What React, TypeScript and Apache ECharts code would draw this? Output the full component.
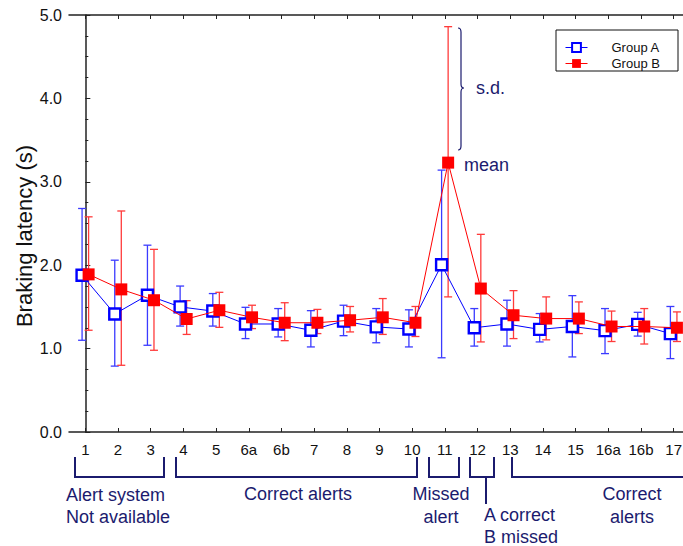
import React, { useEffect, useRef } from "react";
import * as echarts from "echarts";

const categories = ["1", "2", "3", "4", "5", "6a", "6b", "7", "8", "9", "10", "11", "12", "13", "14", "15", "16a", "16b", "17"];
const groupAMean = [1.88, 1.415, 1.64, 1.5, 1.45, 1.295, 1.295, 1.22, 1.33, 1.26, 1.235, 2.005, 1.25, 1.295, 1.23, 1.265, 1.215, 1.29, 1.18];
const groupALow = [1.1, 0.79, 1.04, 1.27, 1.27, 1.12, 1.14, 1.02, 1.155, 1.07, 1.02, 0.89, 1.03, 1.03, 1.08, 0.9, 0.94, 1.15, 0.88];
const groupAHigh = [2.68, 2.06, 2.24, 1.75, 1.66, 1.495, 1.48, 1.455, 1.52, 1.48, 1.465, 3.14, 1.48, 1.58, 1.42, 1.635, 1.48, 1.435, 1.505];
const groupBMean = [1.89, 1.71, 1.58, 1.355, 1.46, 1.375, 1.31, 1.31, 1.34, 1.375, 1.31, 3.23, 1.72, 1.4, 1.36, 1.36, 1.265, 1.265, 1.25];
const groupBLow = [1.22, 0.8, 0.98, 1.17, 1.255, 1.24, 1.095, 1.18, 1.2, 1.17, 1.145, 1.62, 1.08, 1.12, 1.105, 1.18, 1.085, 1.055, 1.085];
const groupBHigh = [2.58, 2.65, 2.19, 1.575, 1.675, 1.52, 1.55, 1.47, 1.505, 1.6, 1.505, 4.86, 2.37, 1.695, 1.62, 1.56, 1.45, 1.48, 1.44];
const seriesNames = ["Group A", "Group B"];
const yMin = 0;
const yMax = 5;
const yInterval = 1;

const NAVY = "#1b1b6e";
const FONT = '"Liberation Sans", Arial, sans-serif';
const OFFSET = 0.1;

echarts.graphic.registerShape(
  "brace",
  echarts.graphic.extendPath("M0,0 Q3,0 3,4 L3,56 Q3,60 6,60 Q3,60 3,64 L3,118 Q3,122 0,122", {})
);

function errorRender(color: string) {
  return (params: any, api: any) => {
    const x = api.value(0);
    const lo = api.coord([x, api.value(1)]);
    const hi = api.coord([x, api.value(2)]);
    const w = 4;
    const style = { stroke: color, lineWidth: 1.3 };
    return {
      type: "group",
      children: [
        { type: "line", shape: { x1: lo[0], y1: lo[1], x2: hi[0], y2: hi[1] }, style },
        { type: "line", shape: { x1: hi[0] - w, y1: hi[1], x2: hi[0] + w, y2: hi[1] }, style },
        { type: "line", shape: { x1: lo[0] - w, y1: lo[1], x2: lo[0] + w, y2: lo[1] }, style },
      ],
    };
  };
}

function bracket(x1: number, x2: number | null, yTop: number, yBot: number) {
  const pts: number[][] = [[x1, yTop], [x1, yBot]];
  if (x2 === null) {
    pts.push([710, yBot]);
  } else {
    pts.push([x2, yBot], [x2, yTop]);
  }
  return { type: "polyline", shape: { points: pts }, style: { stroke: NAVY, lineWidth: 2, fill: "none" }, silent: true };
}

function label(text: string, x: number, y: number, align: string) {
  return {
    type: "text",
    x,
    y,
    style: {
      text,
      fill: NAVY,
      font: `18px ${FONT}`,
      fontSize: 18,
      fontFamily: FONT,
      textAlign: align,
      align,
      textVerticalAlign: "middle",
      verticalAlign: "middle",
    },
    silent: true,
  };
}

export default function App() {
  const ref = useRef<HTMLDivElement>(null);
  useEffect(() => {
    if (!ref.current) return;
    const chart = echarts.init(ref.current, null, { renderer: "svg" });
    const aLine = groupAMean.map((v, i) => [i - OFFSET, v]);
    const bLine = groupBMean.map((v, i) => [i + OFFSET, v]);
    const aErr = groupAMean.map((_, i) => [i - OFFSET, groupALow[i], groupAHigh[i]]);
    const bErr = groupBMean.map((_, i) => [i + OFFSET, groupBLow[i], groupBHigh[i]]);

    const yTop = 457;
    const yBot = 477;

    chart.setOption({
      animation: false,
      backgroundColor: "#fff",
      grid: { left: 69, top: 15, width: 621, height: 417, containLabel: false },
      legend: {
        orient: "vertical",
        left: 560,
        top: 36,
        itemWidth: 22,
        itemHeight: 11,
        itemGap: 3,
        selectedMode: false,
        textStyle: { fontSize: 13, fontFamily: FONT, color: "#111", padding: [0, 0, 0, 19] },
        data: [
          { name: seriesNames[0], itemStyle: { color: "#fff", borderColor: "#0000ff", borderWidth: 2 }, lineStyle: { color: "#0000ff", width: 1 } },
          { name: seriesNames[1], itemStyle: { color: "#ff0000", borderWidth: 0 }, lineStyle: { color: "#ff0000", width: 1 } },
        ],
      },
      xAxis: [
        {
          type: "category",
          position: "bottom",
          data: categories,
          boundaryGap: true,
          axisLine: { show: true, lineStyle: { color: "#222", width: 1.5 } },
          axisTick: { show: true, inside: true, alignWithLabel: true, length: 4, lineStyle: { color: "#222" } },
          axisLabel: { fontSize: 15, fontFamily: FONT, color: "#111", margin: 10, interval: 0 },
          splitLine: { show: false },
        },
        {
          type: "category",
          position: "top",
          data: categories,
          boundaryGap: true,
          axisLine: { show: true, lineStyle: { color: "#222", width: 1.5 } },
          axisTick: { show: true, inside: true, alignWithLabel: true, length: 4, lineStyle: { color: "#222" } },
          axisLabel: { show: false },
          splitLine: { show: false },
        },
        {
          type: "value",
          show: false,
          min: -0.5,
          max: categories.length - 0.5,
          splitLine: { show: false },
        },
      ],
      yAxis: {
        type: "value",
        min: yMin,
        max: yMax,
        interval: yInterval,
        axisLine: { show: true, lineStyle: { color: "#222", width: 1.5 } },
        axisTick: { show: true, inside: true, length: 5, lineStyle: { color: "#222" } },
        minorTick: { show: true, splitNumber: 4, length: 3, lineStyle: { color: "#222" } },
        axisLabel: { fontSize: 16, fontFamily: FONT, color: "#111", margin: 7, formatter: (v: number) => v.toFixed(1) },
        splitLine: { show: false },
      },
      series: [
        {
          name: "errA",
          type: "custom",
          xAxisIndex: 2,
          renderItem: errorRender("#3b3bff"),
          data: aErr,
          z: 1,
          silent: true,
        },
        {
          name: "errB",
          type: "custom",
          xAxisIndex: 2,
          renderItem: errorRender("#ff3b3b"),
          data: bErr,
          z: 1,
          silent: true,
        },
        {
          name: seriesNames[0],
          type: "line",
          xAxisIndex: 2,
          data: aLine,
          symbol: "rect",
          symbolSize: 11,
          showAllSymbol: true,
          lineStyle: { color: "#0000ff", width: 1 },
          itemStyle: { color: "#fff", borderColor: "#0000ff", borderWidth: 2.4 },
          z: 2,
        },
        {
          name: seriesNames[1],
          type: "line",
          xAxisIndex: 2,
          data: bLine,
          symbol: "rect",
          symbolSize: 12,
          showAllSymbol: true,
          lineStyle: { color: "#ff0000", width: 1 },
          itemStyle: { color: "#ff0000", borderWidth: 0 },
          z: 3,
        },
      ],
      graphic: [
        {
          type: "text",
          x: 24,
          y: 236,
          rotation: Math.PI / 2,
          style: {
            text: "Braking latency (s)",
            fill: "#111",
            font: `22px ${FONT}`,
            fontSize: 22,
            fontFamily: FONT,
            textAlign: "center",
            align: "center",
            textVerticalAlign: "middle",
            verticalAlign: "middle",
          },
          silent: true,
        },
        { type: "rect", shape: { x: 556, y: 30, width: 122, height: 41 }, style: { stroke: "#111", lineWidth: 1, fill: "none" }, silent: true, z: 10 },
        bracket(75, 164, yTop, yBot),
        bracket(176, 417, yTop, yBot),
        bracket(429, 459, yTop, yBot),
        bracket(470, 494, yTop, yBot),
        { type: "line", shape: { x1: 486, y1: yBot, x2: 486, y2: 504 }, style: { stroke: NAVY, lineWidth: 2 }, silent: true },
        bracket(512, null, yTop, yBot),
        label("Alert system", 66, 495, "left"),
        label("Not available", 66, 517, "left"),
        label("Correct alerts", 298, 494, "center"),
        label("Missed", 441, 494, "center"),
        label("alert", 441, 517, "center"),
        label("A correct", 484, 515, "left"),
        label("B missed", 484, 537, "left"),
        label("Correct", 632, 494, "center"),
        label("alerts", 632, 517, "center"),
        label("s.d.", 476, 88, "left"),
        label("mean", 464, 165, "left"),
        { type: "brace", x: 458, y: 28, style: { stroke: NAVY, lineWidth: 1.2, fill: "none" }, silent: true },
      ],
    });
    return () => chart.dispose();
  }, []);
  return (
    <div style={{ position: "absolute", left: 0, top: 0, width: 683, height: 546, overflow: "hidden" }}>
      <div ref={ref} style={{ width: 720, height: 546 }} />
    </div>
  );
}
